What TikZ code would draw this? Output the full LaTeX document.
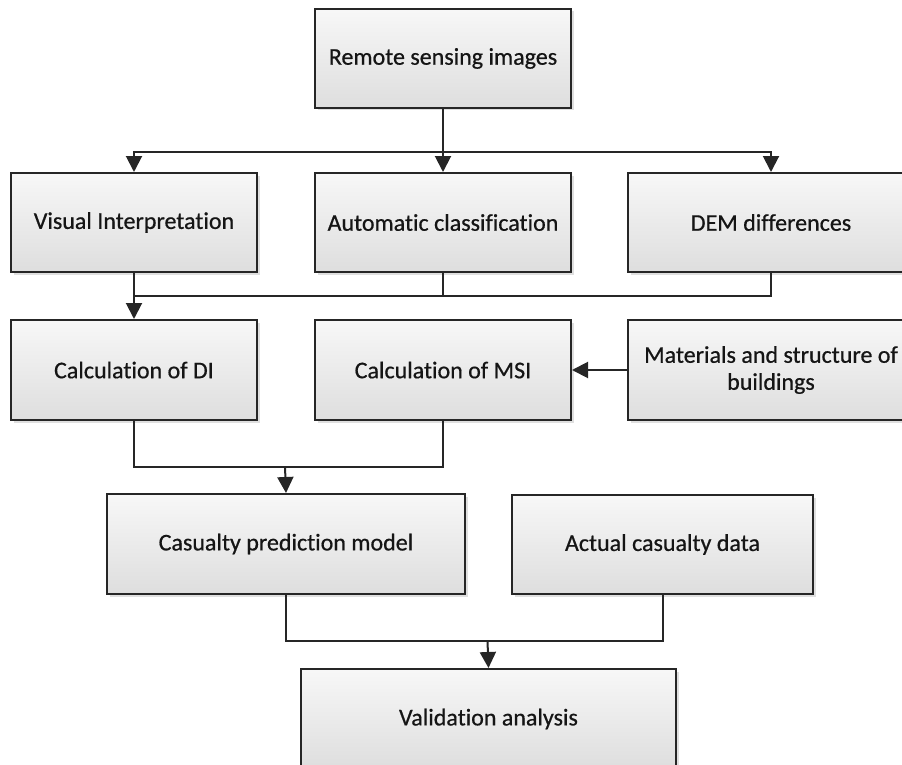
\documentclass[tikz,border=0pt]{standalone}
\usepackage{fontspec}
\setmainfont[Ligatures=NoCommon]{Carlito}
\newfontfamily\boxfont[Ligatures=NoCommon,FakeBold=0.6]{Carlito}
\usetikzlibrary{arrows.meta,shadows}
\definecolor{edgec}{HTML}{262626}
\definecolor{txtc}{HTML}{151515}
\tikzset{
  box/.style={draw=edgec, line width=2pt, anchor=north west, inner sep=0pt,
    top color=white!97!black, bottom color=black!13,
    drop shadow={shadow xshift=2.5pt, shadow yshift=-2.5pt, fill=black!25, opacity=0.5},
    text=txtc, font=\boxfont\fontsize{24}{27}\selectfont, align=center},
  conn/.style={draw=edgec, line width=2pt},
  arr/.style={conn, -{Triangle[width=16pt,length=16pt]}}
}
\begin{document}
\begin{tikzpicture}[x=1pt,y=-1pt]
\useasboundingbox (0,0) rectangle (902,765);
\clip (0,0) rectangle (902,765);
\node[box, minimum width=256pt, minimum height=99pt] (rs) at (314,8) {Remote sensing images};
\node[box, minimum width=246pt, minimum height=99pt] (vi) at (10,172) {Visual Interpretation};
\node[box, minimum width=256pt, minimum height=99pt] (ac) at (314,172) {Automatic classification};
\node[box, minimum width=286pt, minimum height=99pt] (dem) at (627,172) {DEM differences};
\node[box, minimum width=246pt, minimum height=100pt] (di) at (10,319) {Calculation of DI};
\node[box, minimum width=256pt, minimum height=100pt] (msi) at (314,319) {Calculation of MSI};
\node[box, minimum width=286pt, minimum height=100pt] (mat) at (627,319) {Materials and structure of\\buildings};
\node[box, minimum width=358pt, minimum height=100pt] (cp) at (106,493) {Casualty prediction model};
\node[box, minimum width=301pt, minimum height=99pt] (acd) at (511,494) {Actual casualty data};
\node[box, minimum width=375pt, minimum height=100pt] (va) at (300,668) {Validation analysis};
\coordinate (j1) at (442,152);
\coordinate (j2) at (133,296);
\coordinate (j3) at (285,467);
\coordinate (j4) at (487.5,641);
\draw[arr] (rs.south) -- (ac.north);
\draw[arr] (j1) -| (vi.north);
\draw[arr] (j1) -| (dem.north);
\draw[arr] (vi.south) -- (di.north);
\draw[conn] (ac.south) |- (j2);
\draw[conn] (dem.south) |- (j2);
\draw[arr] (mat.west) -- (msi.east);
\draw[conn] (di.south) |- (j3);
\draw[conn] (msi.south) |- (j3);
\draw[arr] (j3) -- (cp.north);
\draw[conn] (cp.south) |- (j4);
\draw[conn] (acd.south) |- (j4);
\draw[arr] (j4) -- (va.north);
\end{tikzpicture}
\end{document}
